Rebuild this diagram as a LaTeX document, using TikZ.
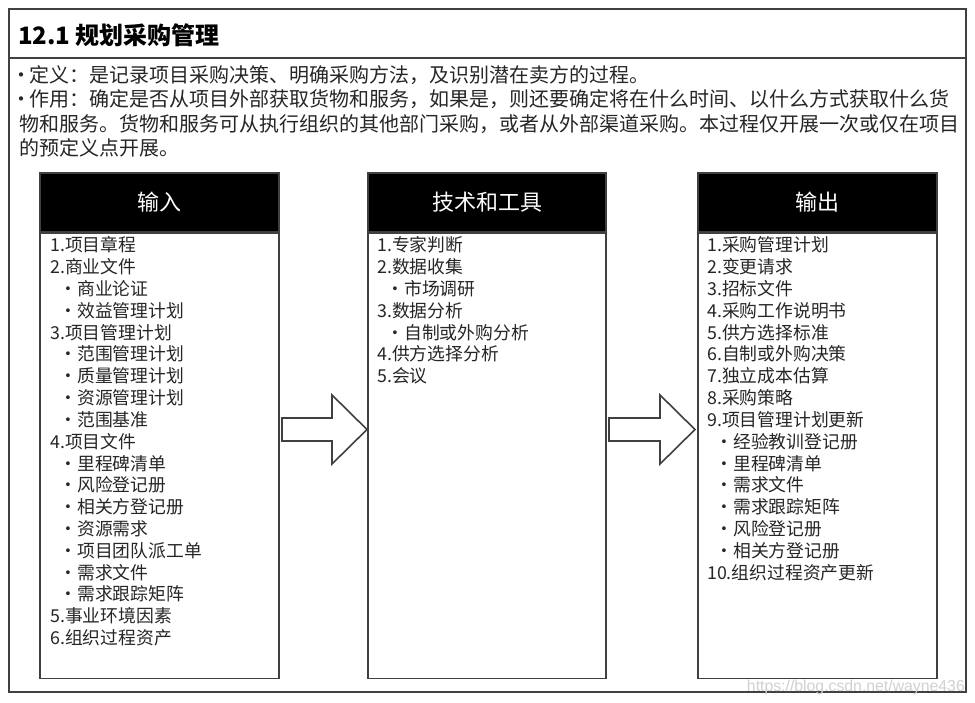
\documentclass[tikz,border=0pt]{standalone}
\usepackage{fontspec}
\setmainfont{Noto Sans CJK SC}
\newfontfamily\wmfont{Liberation Sans}
\definecolor{frame}{HTML}{404040}
\definecolor{txt}{HTML}{262626}
\newcommand\subdot{\makebox[0pt][r]{\makebox[0pt]{·}\hspace{8.5pt}}}
\newcommand\descdot{\hbox to 10pt{\hspace{2.5pt}\makebox[0pt]{·}\hfil}}
\begin{document}
\begin{tikzpicture}[x=1pt,y=-1pt,
  frameline/.style={draw=frame,line width=1.6pt},
  hdr/.style={draw=frame,fill=black,text=white,line width=1.6pt,minimum width=239pt,minimum height=59pt,inner sep=0pt,font=\fontsize{22}{26}\selectfont},
  bodybox/.style={draw=frame,fill=white,line width=1.6pt,minimum width=239pt,minimum height=445pt,inner sep=0pt},
  item/.style={anchor=base west,inner sep=0pt,text=txt,font=\fontsize{17.8}{22}\selectfont},
  desc/.style={anchor=base west,inner sep=0pt,text=txt,font=\fontsize{20}{24}\selectfont},
  bigarrow/.style={draw=frame,fill=white,line width=1.6pt,line join=miter}]
\useasboundingbox (0,0) rectangle (975,703);
\fill[white] (0,0) rectangle (975,703);
% outer frame
\draw[frameline] (9,9) rectangle (966,692);
\draw[frameline] (9,58) -- (966,58);
\node[anchor=base west,inner sep=0pt,text=black,font=\fontsize{24}{28}\selectfont\bfseries] (title) at (18,45) {12.1 规划采购管理};
\node[desc] (d1) at (19,82.5) {\descdot 定义：是记录项目采购决策、明确采购方法，及识别潜在卖方的过程。};
\node[desc] (d2) at (19,106.9) {\descdot 作用：确定是否从项目外部获取货物和服务，如果是，则还要确定将在什么时间、以什么方式获取什么货};
\node[desc] (d3) at (19,131.3) {物和服务。货物和服务可从执行组织的其他部门采购，或者从外部渠道采购。本过程仅开展一次或仅在项目};
\node[desc] (d4) at (19,155.7) {的预定义点开展。};
% columns
\node[hdr] (inH) at (159.5,202.5) {输入};
\node[bodybox,anchor=north] (inB) at (inH.south) {};
\node[hdr,minimum width=238pt] (tlH) at (487,202.5) {技术和工具};
\node[bodybox,minimum width=238pt,anchor=north] (tlB) at (tlH.south) {};
\node[hdr] (outH) at (817.5,202.5) {输出};
\node[bodybox,anchor=north] (outB) at (outH.south) {};
% block arrows
\draw[bigarrow] (282,418) -- (332,418) -- (332,395) -- (367,429.5) -- (332,464) -- (332,441) -- (282,441) -- cycle;
\draw[bigarrow] (609,418) -- (660,418) -- (660,395) -- (695,429.5) -- (660,464) -- (660,441) -- (609,441) -- cycle;
% lists
\foreach \ind/\t [count=\i] in {0/1.项目章程,0/2.商业文件,1/商业论证,1/效益管理计划,0/3.项目管理计划,1/范围管理计划,1/质量管理计划,1/资源管理计划,1/范围基准,0/4.项目文件,1/里程碑清单,1/风险登记册,1/相关方登记册,1/资源需求,1/项目团队派工单,1/需求文件,1/需求跟踪矩阵,0/5.事业环境因素,0/6.组织过程资产}
  \node[item] (in\i) at ({50+27*\ind},{252+21.8*(\i-1)}) {\ifnum\ind=1 \subdot\fi\t};
\foreach \ind/\t [count=\i] in {0/1.专家判断,0/2.数据收集,1/市场调研,0/3.数据分析,1/自制或外购分析,0/4.供方选择分析,0/5.会议}
  \node[item] (tl\i) at ({377+27*\ind},{252+21.8*(\i-1)}) {\ifnum\ind=1 \subdot\fi\t};
\foreach \ind/\t [count=\i] in {0/1.采购管理计划,0/2.变更请求,0/3.招标文件,0/4.采购工作说明书,0/5.供方选择标准,0/6.自制或外购决策,0/7.独立成本估算,0/8.采购策略,0/9.项目管理计划更新,1/经验教训登记册,1/里程碑清单,1/需求文件,1/需求跟踪矩阵,1/风险登记册,1/相关方登记册,0/10.组织过程资产更新}
  \node[item] (out\i) at ({707+26*\ind},{252+21.8*(\i-1)}) {\ifnum\ind=1 \subdot\fi\t};
% watermark
\node[anchor=base east,inner sep=0pt,text=black!18,font=\wmfont\fontsize{15.8}{18}\selectfont] (wm) at (965,691) {https://blog.csdn.net/wayne436};
\end{tikzpicture}
\end{document}
